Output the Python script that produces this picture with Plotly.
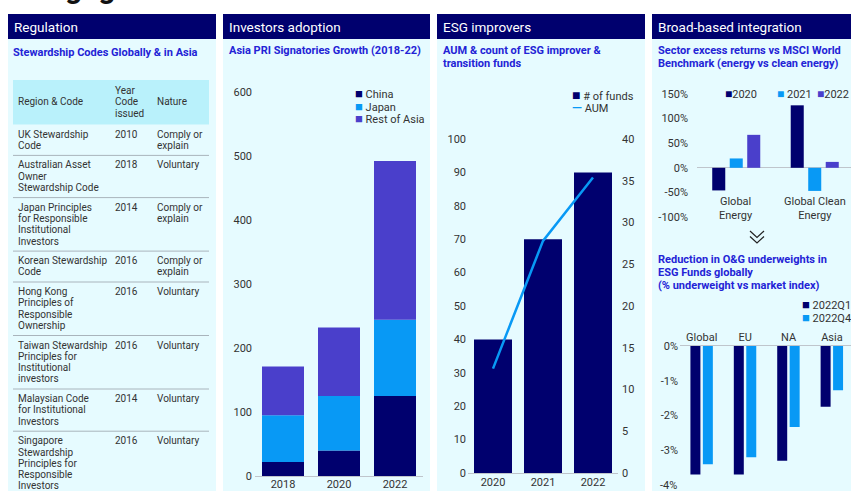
import plotly.graph_objects as go

W, H = 851, 491
FONT = "Roboto"
NAVY = "#00006E"
BLUE = "#0899F5"
PURPLE = "#4A3FCB"
BG = "#E6FBFF"
THEAD = "#B9F1FB"
SUB = "#2323D6"
TXT = "#333333"
GRIDLINE = "#BFC5CC"

# ---------------- data ----------------
table_regions = ["UK Stewardship\nCode",
                 "Australian Asset\nOwner\nStewardship Code",
                 "Japan Principles\nfor Responsible\nInstitutional\nInvestors",
                 "Korean Stewardship\nCode",
                 "Hong Kong\nPrinciples of\nResponsible\nOwnership",
                 "Taiwan Stewardship\nPrinciples for\nInstitutional\ninvestors",
                 "Malaysian Code\nfor Institutional\nInvestors",
                 "Singapore\nStewardship\nPrinciples for\nResponsible\nInvestors"]
table_years = ["2010", "2018", "2014", "2016", "2016", "2016", "2014", "2016"]
table_nature = ["Comply or\nexplain", "Voluntary", "Comply or\nexplain", "Comply or\nexplain",
                "Voluntary", "Voluntary", "Voluntary", "Voluntary"]
table_headers = ["Region & Code", "Year\nCode\nissued", "Nature"]

pri_years = ["2018", "2020", "2022"]
pri_china = [22, 40, 125]
pri_japan = [73, 85, 119]
pri_rest = [76, 107, 248]

esg_years = ["2020", "2021", "2022"]
esg_funds = [40, 70, 90]
esg_aum = [12.5, 27.8, 35.4]

sector_cats = ["Global<br>Energy", "Global Clean<br>Energy"]
sector_2020 = [-46, 127]
sector_2021 = [19, -47]
sector_2022 = [67, 12]

og_regions = ["Global", "EU", "NA", "Asia"]
og_q1 = [-3.7, -3.7, -3.3, -1.75]
og_q4 = [-3.4, -3.2, -2.33, -1.27]
og_ticks = [-4, -3, -2, -1, 0]
og_ticktext = ["-4%", "-3%", "-2%", "-1%", "0%"]

panel_titles = ["Regulation", "Investors adoption", "ESG improvers", "Broad-based integration"]


def px(x):
    return x / W


def pxa(x):
    # left-anchored annotation (compensate the annotation padding)
    return (x - 2) / W


def py(y):
    return 1 - y / H


fig = go.Figure()
shapes = []
ann = []

# ---------------- panel backgrounds & headers ----------------
panels = [(8, 216), (223, 430), (437, 645), (652, 870)]
for (x0, x1), t in zip(panels, panel_titles):
    shapes.append(dict(type="rect", xref="paper", yref="paper", x0=px(x0), x1=px(x1),
                       y0=py(491), y1=py(39), fillcolor=BG, line_width=0, layer="below"))
    shapes.append(dict(type="rect", xref="paper", yref="paper", x0=px(x0), x1=px(x1),
                       y0=py(39), y1=py(14), fillcolor=NAVY, line_width=0, layer="below"))
    ann.append(dict(text=t, x=pxa(x0 + 6), y=py(26.5), xref="paper", yref="paper",
                    xanchor="left", yanchor="middle", showarrow=False,
                    font=dict(family=FONT, size=13.5, color="white")))

# partially visible page title at the very top
ann.append(dict(text="<b>engagement</b>", x=px(30), y=py(7), xref="paper", yref="paper",
                xanchor="left", yanchor="bottom", showarrow=False,
                font=dict(family=FONT, size=30, color="#111111")))

# subtitles
subs = [(13, [52], ["Stewardship Codes Globally & in Asia"]),
        (229, [51], ["Asia PRI Signatories Growth (2018-22)"]),
        (443, [51, 64], ["AUM & count of ESG improver &", "transition funds"]),
        (658, [50, 63], ["Sector excess returns vs MSCI World", "Benchmark (energy vs clean energy)"]),
        (658, [259, 272, 285], ["Reduction in O&G underweights in", "ESG Funds globally",
                                "(% underweight vs market index)"])]
for x0, ys, lines in subs:
    for yy, line in zip(ys, lines):
        ann.append(dict(text="<b>" + line + "</b>", x=pxa(x0), y=py(yy), xref="paper", yref="paper",
                        xanchor="left", yanchor="middle", showarrow=False,
                        font=dict(family=FONT, size=11, color=SUB)))

# ---------------- table (panel 1) ----------------
col_x = [18, 115, 157]
LH = 11.3
shapes.append(dict(type="rect", xref="paper", yref="paper", x0=px(13), x1=px(209),
                   y0=py(124.5), y1=py(80), fillcolor=THEAD, line_width=0, layer="below"))
for cx, htxt in zip(col_x, table_headers):
    lines = htxt.split("\n")
    start = 102 - (len(lines) - 1) * LH / 2
    for i, l in enumerate(lines):
        ann.append(dict(text=l, x=pxa(cx), y=py(start + i * LH), xref="paper", yref="paper",
                        xanchor="left", yanchor="middle", showarrow=False,
                        font=dict(family=FONT, size=10, color=TXT)))
sep = 124.5
for r, yv, nat in zip(table_regions, table_years, table_nature):
    cells = [r.split("\n"), yv.split("\n"), nat.split("\n")]
    nmax = max(len(c) for c in cells)
    for cx, c in zip(col_x, cells):
        for i, l in enumerate(c):
            ann.append(dict(text=l, x=pxa(cx), y=py(sep + 9.5 + i * LH), xref="paper", yref="paper",
                            xanchor="left", yanchor="middle", showarrow=False,
                            font=dict(family=FONT, size=10, color=TXT)))
    sep = sep + nmax * LH + 8.3
    if sep < 480:
        shapes.append(dict(type="line", xref="paper", yref="paper", x0=px(13), x1=px(209),
                           y0=py(sep), y1=py(sep), line=dict(color="#A9B4BC", width=1)))

# ---------------- panel 2: stacked bars ----------------
base_japan = list(pri_china)
base_rest = [c + j for c, j in zip(pri_china, pri_japan)]
for name, vals, base, col in [("China", pri_china, None, NAVY),
                              ("Japan", pri_japan, base_japan, BLUE),
                              ("Rest of Asia", pri_rest, base_rest, PURPLE)]:
    fig.add_trace(go.Bar(x=pri_years, y=vals, base=base, name=name, marker_color=col,
                         marker_line_width=0, width=0.75, offset=-0.375,
                         xaxis="x", yaxis="y", showlegend=False))

# ---------------- panel 3: bars + line ----------------
fig.add_trace(go.Bar(x=esg_years, y=esg_funds, name="# of funds", marker_color=NAVY,
                     marker_line_width=0, width=0.76, offset=-0.38,
                     xaxis="x2", yaxis="y2", showlegend=False))
fig.add_trace(go.Scatter(x=esg_years, y=esg_aum, name="AUM", mode="lines",
                         line=dict(color=BLUE, width=2.5), xaxis="x2", yaxis="y3", showlegend=False))

# ---------------- panel 4 top: grouped bars ----------------
wb = 0.166
for name, vals, col, c in [("2020", sector_2020, NAVY, -0.223),
                           ("2021", sector_2021, BLUE, 0.0),
                           ("2022", sector_2022, PURPLE, 0.223)]:
    fig.add_trace(go.Bar(x=sector_cats, y=vals, name=name, marker_color=col, marker_line_width=0,
                         width=wb, offset=c - wb / 2, xaxis="x3", yaxis="y4", showlegend=False))

# ---------------- panel 4 bottom ----------------
wb2 = 0.23
for name, vals, col, c in [("2022Q1", og_q1, NAVY, -0.145), ("2022Q4", og_q4, BLUE, 0.142)]:
    fig.add_trace(go.Bar(x=og_regions, y=vals, name=name, marker_color=col, marker_line_width=0,
                         width=wb2, offset=c - wb2 / 2, xaxis="x4", yaxis="y5", showlegend=False))

# lowest tick label of the bottom chart (placed through the y5 scale)
ann.append(dict(text=og_ticktext[0], x=px(679), y=og_ticks[0], xref="paper", yref="y5",
                xanchor="right", yanchor="middle", showarrow=False,
                font=dict(family=FONT, size=11, color=TXT)))

# category labels (panel 4 top)
for c in sector_cats:
    ann.append(dict(text=c, x=c, y=py(208.5), xref="x3", yref="paper", xanchor="center",
                    yanchor="middle", showarrow=False, font=dict(family=FONT, size=11, color=TXT)))

# chevrons
for dy in (0, 5.5):
    shapes.append(dict(type="path", xref="paper", yref="paper",
                       path="M {},{} L {},{} L {},{}".format(px(750), py(231 + dy), px(757), py(237.5 + dy),
                                                             px(764), py(231 + dy)),
                       line=dict(color="#222222", width=1.2)))


def sq(col, size=13):
    return "<span style='color:{};font-size:{}px'>■</span>".format(col, size)


# legends
for yy, col, name in [(93, NAVY, "China"), (106, BLUE, "Japan"), (119, PURPLE, "Rest of Asia")]:
    ann.append(dict(text=sq(col) + " " + name, x=px(353), y=py(yy), xref="paper", yref="paper",
                    xanchor="left", yanchor="middle", showarrow=False,
                    font=dict(family=FONT, size=11, color=TXT)))
ann.append(dict(text=sq(NAVY, 14) + " # of funds", x=px(570), y=py(95), xref="paper", yref="paper",
                xanchor="left", yanchor="middle", showarrow=False, font=dict(family=FONT, size=11, color=TXT)))
ann.append(dict(text="<span style='color:{};font-size:13px'><b>—</b></span> AUM".format(BLUE),
                x=px(570), y=py(107), xref="paper", yref="paper", xanchor="left", yanchor="middle",
                showarrow=False, font=dict(family=FONT, size=11, color=TXT)))
for xx, col, name in [(723, NAVY, "2020"), (775, BLUE, " 2021"), (815, PURPLE, "2022")]:
    ann.append(dict(text=sq(col, 12) + name, x=px(xx), y=py(94), xref="paper", yref="paper",
                    xanchor="left", yanchor="middle", showarrow=False,
                    font=dict(family=FONT, size=11, color=TXT)))
for yy, col, name in [(304, NAVY, "2022Q1"), (317, BLUE, "2022Q4")]:
    ann.append(dict(text=sq(col) + " " + name, x=px(800), y=py(yy), xref="paper", yref="paper",
                    xanchor="left", yanchor="middle", showarrow=False,
                    font=dict(family=FONT, size=11, color=TXT)))

tf = dict(family=FONT, size=11, color=TXT)
common = dict(showgrid=False, zeroline=False, ticks="", tickfont=tf, automargin=False)

fig.update_layout(
    width=W, height=H, margin=dict(l=0, r=0, t=0, b=0, autoexpand=False),
    paper_bgcolor="white", plot_bgcolor="rgba(0,0,0,0)",
    barmode="overlay", showlegend=False,
    font=dict(family=FONT, color=TXT),
    shapes=shapes, annotations=ann,
    xaxis=dict(domain=[px(255), px(423)], anchor="y", type="category", range=[-0.5, 2.5],
               showline=True, linecolor=GRIDLINE, ticklabelstandoff=-2, **common),
    yaxis=dict(domain=[py(476), py(92)], anchor="x", range=[0, 600], tickvals=list(range(0, 601, 100)),
               showline=False, ticklabelstandoff=2, **common),
    xaxis2=dict(domain=[px(468), px(618)], anchor="y2", type="category", range=[-0.5, 2.5],
                showline=True, linecolor=GRIDLINE, ticklabelstandoff=-1, **common),
    yaxis2=dict(domain=[py(473), py(139)], anchor="x2", range=[0, 100], tickvals=list(range(0, 101, 10)),
                showline=False, ticklabelstandoff=1, **common),
    yaxis3=dict(anchor="x2", overlaying="y2", side="right", range=[0, 40], tickvals=list(range(0, 41, 5)),
                showline=False, ticklabelstandoff=3, **common),
    xaxis3=dict(domain=[px(697), 1], anchor="y4", type="category", range=[-0.5, 1.462],
                showticklabels=False, showline=False, showgrid=False, zeroline=False, ticks="",
                automargin=False),
    yaxis4=dict(domain=[py(217), py(94)], anchor="x3", range=[-100, 150],
                tickvals=[-100, -50, 0, 50, 100, 150],
                ticktext=["-100%", "-50%", "0%", "50%", "100%", "150%"],
                showgrid=False, ticks="", tickfont=tf, zeroline=True, zerolinecolor=GRIDLINE,
                zerolinewidth=1, ticklabelstandoff=8, automargin=False),
    xaxis4=dict(domain=[px(680), 1], anchor="y5", type="category", range=[-0.5, 3.44], side="top",
                showline=True, linecolor=GRIDLINE, **common),
    yaxis5=dict(domain=[py(488.5), py(346)], anchor="x4", range=[-4.1, 0], tickvals=og_ticks[1:],
                ticktext=og_ticktext[1:], showline=False, ticklabelstandoff=1, **common),
)

fig.write_html("out.html")
